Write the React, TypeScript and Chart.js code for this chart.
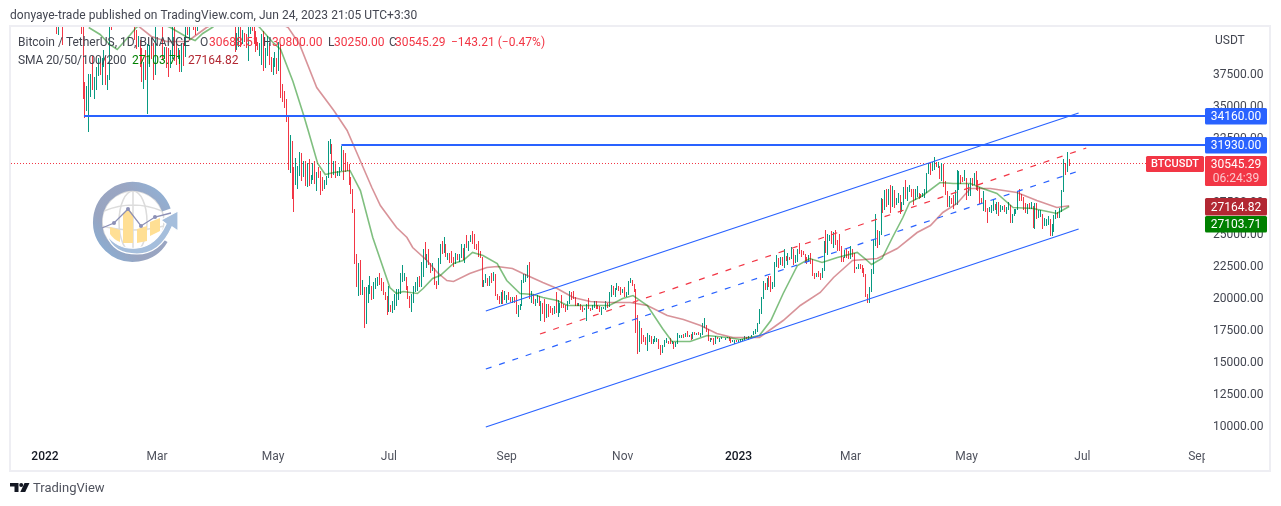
import React, { useEffect, useRef } from "react";
import { Chart, registerables } from "chart.js";

Chart.register(...registerables);

// Daily candles from 2022-01-01 (day 0) to 2023-06-24 (day 539), USD
const highs = [
  47900,47900,47600,47500,47100,43700,43100,42300,42800,42200,43000,44300,44400,43400,43800,43500,43200,42700,42600,43500,41100,36800,36500,37500,37500,38900,37200,38000,38700,38400,38700,
  39300,38900,37400,41700,41900,42700,44500,45500,44800,45800,43900,43000,42700,42900,44700,44600,44200,40900,40400,40100,39500,38400,39300,39800,39700,40300,39900,44200,
  44900,45400,44100,42500,39600,39600,39500,39300,42600,42000,40200,39500,39300,39900,39900,41700,41500,42300,42400,42300,41500,43400,43000,44200,45100,44800,46900,48200,48100,47700,47600,
  46700,47200,47400,46900,47200,45500,43900,43900,42800,43400,42400,40700,41600,41500,40900,40700,40600,41100,41800,42200,42980,40800,39980,39900,40600,40800,39500,40400,39900,38800,
  38700,39200,38700,40000,39800,36700,36100,35500,34200,32700,32200,30200,30900,30300,31400,31300,30700,30700,30500,30800,29600,30500,30700,29800,30200,29900,29400,29200,29500,32200,32400,
  32000,30700,30700,29900,30200,31800,31500,31300,30600,30400,29400,28500,26900,23400,22700,22900,21400,20800,20800,21000,21700,20900,21200,21500,21600,21900,21500,21200,20400,20100,
  20900,19400,19700,20300,20700,20700,21900,22500,21900,21600,20900,20100,20300,20900,21200,21600,21700,22800,23800,24300,23400,23800,22700,22700,22300,21300,23100,24200,24400,24700,24200,
  23500,23500,23600,23200,23500,23400,23400,24200,23900,24200,24900,24400,24900,25200,25000,24200,24400,23600,23200,21400,21800,21500,21700,21900,22000,21800,20300,20100,20400,20600,20500,
  20200,20400,20000,20000,20050,20200,19400,19500,21400,21800,21800,22500,22800,20500,20300,19900,20200,20100,19700,19600,19900,19500,19500,19300,19200,19300,20400,19800,19600,20200,
  19500,19400,19700,20500,20400,20500,20050,19600,19600,19500,19300,19200,19500,19950,19200,19400,19700,19700,19400,19350,19250,19250,19700,19600,20400,21000,20900,20750,21100,20900,20850,
  20700,20800,20400,21300,21500,21350,21050,20700,18600,18150,17650,17050,16950,17200,17100,17000,16750,17000,16800,16750,16300,16300,16700,16800,16600,16800,16600,16500,16550,17200,
  17100,17100,17150,17200,17400,17100,17150,17300,17300,17200,17300,17250,18000,18400,17850,17500,16800,16850,16800,17000,16900,16850,16950,16850,16850,16950,16950,16800,16650,16650,16650,
  16650,16750,16750,17000,16900,17000,16950,17100,17400,17500,18000,19100,20000,21300,21100,21500,21650,21650,21200,22750,23300,23100,23200,23150,23800,23250,23500,23200,23950,23800,23300,
  23800,24250,23700,23600,23400,23150,23350,23450,23000,21900,21900,22100,21900,22300,24400,25250,25000,24850,25200,25100,25250,24500,25000,24000,23200,23700,23900,23600,
  24000,23800,23500,22400,22600,22600,22550,22300,21800,20300,20800,22200,24500,26500,25250,25200,27750,27700,28400,28500,28500,28800,28750,28400,27800,28200,28000,27500,28650,29200,28650,
  28800,28500,28500,28450,28750,28200,28100,28150,28500,29750,30500,30500,30600,31000,30600,30550,30300,30500,30400,29100,28350,27900,27800,28000,28400,30000,29900,29600,29450,30000,
  29300,28900,29300,29350,29700,29850,29150,28650,27800,28300,27600,27000,27050,27200,27650,27300,27500,27500,27200,27150,27250,27050,27500,27200,26550,26900,26950,28250,28450,28050,27850,
  27350,27300,27350,27450,27150,27350,27400,26800,26800,26550,26200,26100,26400,26100,25750,26450,26800,26700,27000,28400,30800,30500,31400,30800,
];
const lows = [
  46200,46600,45700,45500,42500,42500,40600,40500,41200,39700,41300,42400,42300,41800,42600,42700,41500,41300,41100,40600,35500,34000,34600,32900,35700,36200,35500,36200,37300,37400,36600,
  38000,36600,36200,37000,40900,41100,41700,42700,43100,43200,42000,41800,41900,41600,42400,43300,40100,39400,39600,38000,36800,36300,37000,34300,38000,38600,37000,37400,
  42800,43300,41800,38600,38600,37900,37200,37900,38600,38500,38200,38600,37600,37600,38100,38800,40500,40100,41500,40900,40500,40800,41800,42600,43600,44100,44400,46700,46900,46500,45200,
  44200,45500,45500,45100,45400,43100,42700,42100,42100,41900,39200,39300,39600,39600,39800,40000,39500,38500,40600,40800,39800,39200,39300,38900,38200,37700,37900,38900,38200,37600,
  37400,38000,37500,37700,35600,35300,34800,33700,30000,29700,27700,26700,28800,28500,29500,29100,29400,28700,28600,28700,28900,29200,28900,28300,29300,28000,28300,28500,28800,29300,31200,
  29300,29600,29300,29500,29500,29900,29200,29800,29900,28800,28100,26600,22600,20800,20100,20200,20200,17600,17900,19600,20300,19800,19900,20700,20900,21000,20500,20200,19800,18600,
  18900,18900,18800,19000,19300,19800,20300,21200,21300,20600,19900,19200,18900,19600,20400,20500,20800,20800,21600,22900,22300,22500,21900,22100,21000,20700,21000,22600,23400,23500,23200,
  22900,22700,22700,22400,22600,22900,22800,23100,22900,22700,23900,23600,24300,24200,23800,23700,23200,23100,20800,20800,21100,20900,20900,21100,21300,20100,19800,19500,19500,19500,19800,
  19600,19800,19650,19600,19600,18700,18500,19000,19300,21100,21200,21500,19900,19600,19500,19300,19600,19300,18200,18700,18100,18400,18500,18800,18600,18700,18800,18500,18800,19200,
  19200,18900,19000,19500,19800,19900,19300,19300,19300,19000,18900,19000,18200,19100,18950,19000,19200,19100,19100,18900,18650,19100,19050,19200,19250,20050,20200,20000,20550,20500,20200,
  20350,20050,20000,20200,21100,20900,20400,17200,15600,15750,16350,16500,16300,15800,16500,16350,16400,16550,16550,16000,15500,15700,16150,16450,16350,16400,16400,15950,16100,16400,
  16850,16800,16850,16900,16900,16900,16700,16750,17100,17100,17050,16900,17100,17650,17300,16600,16550,16650,16300,16400,16750,16550,16750,16800,16700,16800,16600,16450,16500,16350,16500,
  16500,16550,16600,16650,16750,16700,16900,16900,17100,17150,17300,17900,18700,19900,20550,20600,20850,20400,20650,20850,22400,22300,22500,22450,22300,22850,22500,22900,23000,22500,22700,
  22750,23400,23200,23300,22750,22600,22750,22650,21700,21450,21600,21600,21350,21500,22050,23500,23300,24450,24200,23850,24100,23600,23600,22800,22750,23050,23100,23000,
  23000,23200,21950,22200,22200,22250,21900,21600,20050,19550,19550,20400,21800,24000,23900,24100,24900,26600,26850,27100,27200,26600,27100,27000,27200,27400,26500,26650,27250,27700,27550,
  28250,27850,27200,27650,27850,27700,27750,27850,27800,28150,29650,29600,29850,29950,30200,30100,29250,29100,28600,28000,27100,27100,27300,26950,27200,27200,28400,28850,29000,29100,
  27650,27900,27900,28700,28800,28400,28300,27300,27350,26750,26700,25800,26700,26600,26750,26850,26550,26350,26650,26850,26650,26550,26800,25850,25850,26350,26500,26850,27550,27550,26850,
  26600,26550,26900,26950,25400,25350,26100,26200,26300,25350,25600,25600,25700,24800,24800,25150,26150,26200,26250,26650,28250,29550,29800,30250,
];
const closes = [
  47700,47300,46400,45800,43400,43100,41600,41700,41900,41800,42700,43900,42600,43100,43100,43100,42200,42400,41700,40700,36500,35100,36300,36700,37000,36800,37200,37700,38200,37900,38500,
  38700,36900,37300,41600,41400,42400,43800,44000,44400,43500,42400,42200,42100,42500,44500,43900,40500,40000,40100,38400,37000,38200,37300,38300,39200,39100,37700,43200,
  44400,44000,42500,39100,39400,38400,38000,38700,41900,39400,38800,38800,37800,39700,39300,41100,40900,41800,42200,41300,41000,42400,42900,44000,44300,44500,46800,47100,47400,47100,45500,
  46300,45800,46400,46600,45500,43200,43400,42300,42800,42200,39500,40100,41100,39900,40600,40400,39700,40800,41500,41400,40500,39700,39500,39500,40400,38100,39200,39700,38600,37600,
  38500,38500,37700,39700,36500,36000,35500,34000,30100,31000,29100,29000,29300,29900,31300,29800,30400,28700,30300,29200,29400,30300,29100,29600,29500,29200,28600,29000,29400,31700,31800,
  29800,30400,29700,29900,29900,31400,31100,30200,30100,29100,28400,26600,22500,22100,22600,20400,20500,19000,20600,20600,20700,20000,21100,21200,21500,21000,20700,20300,20100,19000,
  19300,19200,19300,20200,20200,20500,21600,21600,21600,20800,20000,19300,20200,20600,20800,21200,20800,22000,23400,23200,23200,22700,22400,22600,21300,21200,22900,23800,23600,23600,23300,
  23300,22980,22800,22600,23300,22950,23200,23800,23100,23950,23900,24400,24400,24300,24100,23850,23300,23200,20800,21100,21500,21400,21500,21400,21600,20200,20000,19600,20300,19800,20000,
  20100,19950,19800,20000,19800,18800,19300,19300,21400,21650,21800,22400,20200,20200,19700,19800,20100,19400,19500,18900,18500,19400,19300,18900,18800,19200,19100,19400,19600,19400,
  19300,19000,19600,20300,20200,19950,19500,19400,19450,19100,19050,19150,19400,19200,19050,19300,19550,19300,19100,19050,19150,19200,19600,19300,20100,20800,20300,20600,20800,20600,20500,
  20500,20150,20200,21150,21300,20900,20600,18550,15900,17600,17050,16800,16350,16600,16900,16650,16700,16700,16700,16300,15800,16200,16600,16600,16500,16450,16450,16200,16450,16950,
  16950,17100,16900,17100,16950,17100,16850,17200,17150,17150,17100,17200,17800,17800,17350,16600,16800,16750,16450,16900,16800,16800,16800,16850,16850,16900,16700,16550,16600,16600,16550,
  16600,16650,16700,16850,16800,16950,16950,17100,17200,17450,17950,18850,19900,20950,20900,21200,21150,20700,21100,22700,22800,22700,22900,22600,23050,23000,23100,23000,23750,22800,23100,
  23700,23500,23400,23300,22900,22750,23200,22950,21800,21600,21850,21800,21750,22200,24300,23500,24550,24600,24300,24850,24450,24200,23950,23200,23150,23550,23500,23150,
  23650,23450,22350,22350,22450,22400,22200,21700,20350,20200,20600,22150,24100,24700,24300,25050,27400,26900,28050,27800,28200,27300,28300,27450,27500,28000,27100,27250,28350,28000,28450,
  28450,28200,27800,28150,28150,28000,27900,27950,28300,29650,30200,29900,30400,30500,30300,30300,29450,30400,28800,28250,27250,27800,27600,27500,28300,28400,29450,29300,29200,29200,
  28050,28650,29000,28800,29500,28850,28450,27650,27600,27600,26950,26800,26800,26900,27200,27050,27400,26800,26900,27100,26750,26850,27200,26300,26500,26700,26850,28100,27750,27700,27200,
  26800,27250,27050,27100,25750,27250,26350,26500,26500,25850,25900,25900,25900,25100,25600,26350,26500,26350,26850,28300,30000,29900,30700,30545.29,
];
const firstOpen = 46200;

// Moving averages (day, price)
const smaGreenDays = [23,29,34,38,45,48,55,66,75,79,83,88,97,108,113,119.5,124,130.5,136,138.5,143.5,147.5,152,160.5,166,172.5,181.5,185,188.5,196,199,204,208,215,220,225,230.5,238,243,250,257,262,269.5,275,288.5,297,304,309.5,317,325,330,339.5,348.5,359,366,376,382,388.5,396,402.5,409,417,427.5,431.5,435,440.5,446,451.5,455,462,471,478,487,493.5,501,509.5,520,532.5,539];
const smaGreen = [41094,40547,39766,39375,40547,41094,41797,41094,40312,40078,40625,41094,42109,41797,41094,40000,39375,36875,34297,33047,30469,29609,29766,29922,28359,24688,20781,20313,20469,20313,20703,21484,21719,22656,22891,23516,23281,22656,21328,20313,20234,20000,19766,19375,19375,19375,19922,20156,19375,17578,16563,16563,17031,16875,16719,17031,18203,20313,22500,23047,22734,23125,23516,23047,22578,23047,24688,26250,27422,27969,28984,28906,28906,28516,28125,27031,26953,26563,27103.71];
const smaRedDays = [20,39.5,50,56,64,75,80,85,95,108,118.5,128,134,143,152,159,162,172,176.5,181.5,185,190.5,193.5,201,206.5,211.5,215,223.5,232.5,238,246,251.5,262,269.5,278,287,297,308,317,327.5,336,345,353.5,362,376,388.5,397.5,408,415,425,438,448.5,459,466,472.5,480,487,497.5,511.5,522,532.5,539];
const smaRed = [43200,42422,41094,40391,40000,40000,40547,41094,41797,42109,41797,41094,39766,36406,34609,33047,32031,28594,27188,26172,25469,24688,23906,22891,21953,21328,21250,21875,22344,22422,22266,21875,21172,20703,20000,19688,19609,19609,19375,18594,18281,17813,17188,16875,16875,18203,19375,20391,21563,22891,23047,23828,25078,25625,26641,27344,28516,28516,28203,27578,27031,27164.82];

// Drawn trend lines and levels
const channelUpper = [{ x: 232, y: 18945 }, { x: 544, y: 34414 }];
const channelLower = [{ x: 232, y: 9883 }, { x: 544, y: 25351 }];
const channelMid = [{ x: 232, y: 14414 }, { x: 544, y: 29883 }];
const channelRed = [{ x: 260.5, y: 17149 }, { x: 548, y: 31680 }];
const levelHigh = 34160;
const levelHighStart = 20.5;
const levelLow = 31930;
const levelLowStart = 156;
const lastPrice = 30545.29;
const maRed = 27164.82;
const maGreen = 27103.71;

// Axis labels
const priceTicks = [10000,12500,15000,17500,20000,22500,25000,27500,30000,32500,35000,37500];
const timeTickDays = [0,59,120,181,243,304,365,424,485,546,607];
const timeTickLabels = ["2022","Mar","May","Jul","Sep","Nov","2023","Mar","May","Jul","Sep"];

const FONT = "Roboto, sans-serif";
const UP = "#089981";
const DOWN = "#f23645";
const BLUE = "#2962ff";
const CHART_GREEN = "#008000";
const CHART_RED = "#b22833";
const INK = "#434651";

const X_MIN = -17.9;
const X_MAX = 610.5;
const Y_MIN = 8789;
const Y_MAX = 41211;

function text(ctx: CanvasRenderingContext2D, s: string, x: number, y: number, color: string, font = `12px ${FONT}`, align: CanvasTextAlign = "left") {
  ctx.font = font;
  ctx.fillStyle = color;
  ctx.textAlign = align;
  ctx.textBaseline = "middle";
  ctx.fillText(s, x, y);
}

function tag(ctx: CanvasRenderingContext2D, x: number, y: number, w: number, h: number, bg: string) {
  ctx.fillStyle = bg;
  ctx.beginPath();
  ctx.roundRect(x, y, w, h, 1.5);
  ctx.fill();
}

const snapBars = {
  id: "snapBars",
  afterDatasetsUpdate(chart: any) {
    const count = chart.data.datasets.length;
    const meta = chart.getDatasetMeta(count - 1);
    meta.data.forEach((el: any) => {
      el.x = Math.floor(el.x) + 0.5;
      el.width = 1;
      el.y = Math.round(el.y);
      el.base = Math.round(el.base);
    });
    chart.data.datasets.forEach((ds: any, i: number) => {
      if (!ds.snap) return;
      chart.getDatasetMeta(i).data.forEach((pt: any) => {
        pt.y = ds.borderWidth === 1 ? Math.round(pt.y) + 0.5 : Math.round(pt.y);
      });
    });
  },
};

const frame = {
  id: "frame",
  beforeDraw(chart: any) {
    const { ctx } = chart;
    ctx.save();
    ctx.fillStyle = "#ffffff";
    ctx.fillRect(0, 0, chart.width, chart.height);
    ctx.restore();
  },
  afterDraw(chart: any) {
    const { ctx } = chart;
    const yScale = chart.scales.y;
    ctx.save();

    // clip the last time label at the price axis
    ctx.fillStyle = "#ffffff";
    ctx.fillRect(1205, 444, 62, 24);

    // price axis labels
    priceTicks.forEach((v) => {
      text(ctx, v.toFixed(2), 1213, yScale.getPixelForValue(v) + 1.5, INK);
    });

    // frame
    ctx.strokeStyle = "#eeeef3";
    ctx.lineWidth = 2;
    ctx.strokeRect(10, 26, 1260, 445);

    // header, footer
    ctx.letterSpacing = "0.05px";
    text(ctx, "donyaye-trade published on TradingView.com, Jun 24, 2023 21:05 UTC+3:30", 10, 15.5, INK);
    ctx.letterSpacing = "0px";
    text(ctx, "TradingView", 33, 489, "#50535e", `13px ${FONT}`);

    // legend
    const leg = 42.5;
    text(ctx, "Bitcoin / TetherUS, 1D, BINANCE", 18, leg, INK);
    text(ctx, "O", 200, leg, INK);
    text(ctx, "30688.51", 209, leg, DOWN);
    text(ctx, "H", 263, leg, INK);
    text(ctx, "30800.00", 272, leg, DOWN);
    text(ctx, "L", 328, leg, INK);
    text(ctx, "30250.00", 334, leg, DOWN);
    text(ctx, "C", 389, leg, INK);
    text(ctx, "30545.29", 395, leg, DOWN);
    text(ctx, "\u2212143.21 (\u22120.47%)", 451, leg, DOWN);
    ctx.letterSpacing = "-0.15px";
    text(ctx, "SMA 20/50/100/200", 18, 60.5, INK);
    ctx.letterSpacing = "0px";
    text(ctx, "27103.71", 132, 60.5, CHART_GREEN);
    text(ctx, "27164.82", 188, 60.5, CHART_RED);

    text(ctx, "USDT", 1215, 41, INK);

    // price tags
    const tags: [number, string, string][] = [
      [levelHigh, levelHigh.toFixed(2), BLUE],
      [levelLow, levelLow.toFixed(2), BLUE],
    ];
    tags.forEach(([v, label, bg]) => {
      const cy = Math.round(yScale.getPixelForValue(v));
      tag(ctx, 1205, cy - 8, 62, 16.5, bg);
      text(ctx, label, 1236, cy + 1, "#ffffff", `12px ${FONT}`, "center");
    });
    const lastY = Math.round(yScale.getPixelForValue(lastPrice));
    tag(ctx, 1146, lastY - 7, 58, 16, DOWN);
    text(ctx, "BTCUSDT", 1175, lastY + 1.5, "#ffffff", `500 11px ${FONT}`, "center");
    tag(ctx, 1205, lastY - 7, 62, 30, DOWN);
    text(ctx, lastPrice.toFixed(2), 1236, lastY + 1.5, "#ffffff", `12px ${FONT}`, "center");
    text(ctx, "06:24:39", 1236, lastY + 15.5, "#fcc9ce", `12px ${FONT}`, "center");

    const redY = Math.round(yScale.getPixelForValue(maRed));
    tag(ctx, 1205, redY - 8, 62, 17.5, CHART_RED);
    text(ctx, maRed.toFixed(2), 1236, redY + 1.5, "#ffffff", `12px ${FONT}`, "center");
    tag(ctx, 1205, redY + 10, 62, 16.5, CHART_GREEN);
    text(ctx, maGreen.toFixed(2), 1236, redY + 19, "#ffffff", `12px ${FONT}`, "center");

    ctx.restore();
  },
};

function line(data: { x: number; y: number }[], color: string, width: number, dash: number[] = [], order = 1, snap = false): any {
  return {
    type: "line",
    data,
    snap,
    borderColor: color,
    backgroundColor: color,
    borderWidth: width,
    borderDash: dash,
    pointRadius: 0,
    tension: 0,
    order,
    parsing: { xAxisKey: "x", yAxisKey: "y" },
  };
}

export default function App() {
  const ref = useRef<HTMLCanvasElement>(null);

  useEffect(() => {
    document.body.style.margin = "0";
    document.body.style.overflow = "hidden";
    const candleBars = highs.map((h, i) => ({ x: i, y: [lows[i], h] }));
    const candleColors = closes.map((c, i) => (c >= (i === 0 ? firstOpen : closes[i - 1]) ? UP : DOWN));

    const chart = new Chart(ref.current!, {
      type: "bar",
      data: {
        datasets: [
          line([{ x: X_MIN, y: lastPrice }, { x: X_MAX, y: lastPrice }], DOWN, 1, [1, 2], 6, true),
          line(channelUpper, BLUE, 1.2),
          line(channelLower, BLUE, 1.2),
          line(channelMid, BLUE, 1.2, [6, 8]),
          line(channelRed, DOWN, 1.2, [6, 8]),
          line([{ x: levelHighStart, y: levelHigh }, { x: X_MAX, y: levelHigh }], BLUE, 2, [], 1, true),
          line([{ x: levelLowStart, y: levelLow }, { x: X_MAX, y: levelLow }], BLUE, 2, [], 1, true),
          line(smaGreenDays.map((x, i) => ({ x, y: smaGreen[i] })), "rgba(0,128,0,0.5)", 1.6, [], 2),
          line(smaRedDays.map((x, i) => ({ x, y: smaRed[i] })), "rgba(178,40,51,0.5)", 1.6, [], 2),
          {
            type: "bar",
            data: candleBars,
            backgroundColor: candleColors,
            barThickness: 1,
            inflateAmount: 0,
            borderWidth: 0,
            order: 5,
          } as any,
        ],
      },
      options: {
        animation: false,
        responsive: false,
        devicePixelRatio: 1,
        events: [],
        layout: { autoPadding: false, padding: { left: 11, right: 11, top: 26, bottom: 36 } },
        plugins: { legend: { display: false }, tooltip: { enabled: false } },
        scales: {
          x: {
            type: "linear",
            offset: false,
            min: X_MIN,
            max: X_MAX,
            grid: { display: false, offset: false },
            border: { display: false },
            afterBuildTicks(scale: any) {
              scale.ticks = timeTickDays.map((value) => ({ value }));
            },
            afterFit(scale: any) {
              scale.height = 29;
            },
            ticks: {
              autoSkip: false,
              maxRotation: 0,
              minRotation: 0,
              padding: 1,
              callback: (v: any) => timeTickLabels[timeTickDays.indexOf(Number(v))],
              color: (c: any) => (/^\d/.test(String(c.tick?.label)) ? "#131722" : "#50535e"),
              font: (c: any) => ({
                family: FONT,
                size: 12,
                weight: /^\d/.test(String(c.tick?.label)) ? "500" : "normal",
              }),
            },
          },
          y: {
            position: "right",
            min: Y_MIN,
            max: Y_MAX,
            grid: { display: false },
            border: { display: false },
            afterBuildTicks(scale: any) {
              scale.ticks = priceTicks.map((value) => ({ value }));
            },
            afterFit(scale: any) {
              scale.width = 65;
            },
            ticks: { display: false },
          },
        },
      },
      plugins: [snapBars, frame],
    } as any);
    return () => chart.destroy();
  }, []);

  return (
    <div style={{ position: "fixed", left: 0, top: 0, width: 1281, height: 506, background: "#fff" }}>
      <canvas ref={ref} width={1281} height={506} style={{ position: "absolute", left: 0, top: 0, width: 1281, height: 506 }} />
      <svg width={1281} height={506} style={{ position: "absolute", left: 0, top: 0, pointerEvents: "none" }}>
        {/* footer mark */}
        <path d="M10 483h8.5v9h-4v-5.5H10z" fill="#131722" />
        <circle cx="21.2" cy="485" r="2" fill="#131722" />
        <path d="M24.5 483h5l-4.3 9h-4.9z" fill="#131722" />
        {/* watermark */}
        <defs>
          <linearGradient id="ring" x1="0" y1="1" x2="1" y2="0">
            <stop offset="0" stopColor="#86b0d8" />
            <stop offset="0.3" stopColor="#98a4c0" />
            <stop offset="0.7" stopColor="#9aa6c3" />
            <stop offset="1" stopColor="#8fb3d8" />
          </linearGradient>
        </defs>
        <g fill="none" stroke="#dcdcdc" strokeWidth="1.5">
          <circle cx="133" cy="222" r="31" />
          <ellipse cx="133" cy="222" rx="14" ry="31" />
          <path d="M133 191v62M104 211q29 -12 58 0M102 226q31 8 62 0" />
        </g>
        <path d="M166.400 209.900A35.500 35.500 0 1 0 163.700 239.700" fill="none" stroke="url(#ring)" strokeWidth="9" />
        <path d="M110 227l10 3v12q-7 -3 -10 -8z" fill="#ffdf94" />
        <path d="M123 214l5 -6 5 6v29h-10z" fill="#ffdf94" />
        <path d="M137 229l10 -3v15l-10 2z" fill="#ffdf94" />
        <path d="M150 222l10 -4v13l-10 5z" fill="#ffdf94" />
        <path d="M102 228L114 223L128 209L141 226L155 217L171 213" fill="none" stroke="#8c90b6" strokeWidth="1.3" />
        <g fill="#8c90b6">
          <circle cx="114" cy="223" r="2" />
          <circle cx="128" cy="209" r="2" />
          <circle cx="141" cy="226" r="2" />
          <circle cx="155" cy="217" r="2" />
        </g>
        <path d="M107 235Q118 250 137 248Q156 246 166 224L161 220L178 211L178 231L172 227Q160 254 137 254Q113 254 107 235z" fill="#a5bedc" stroke="#ffffff" strokeWidth="1.2" />
      </svg>
    </div>
  );
}
